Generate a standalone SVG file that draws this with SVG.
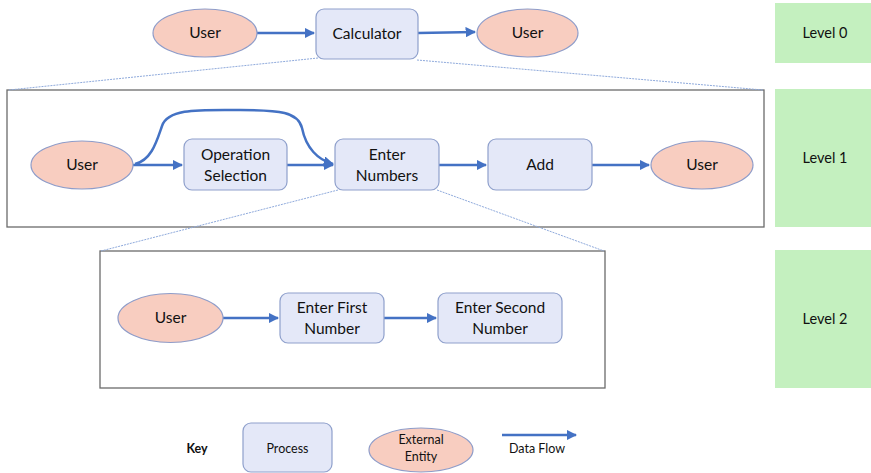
<svg xmlns="http://www.w3.org/2000/svg" width="871" height="473" viewBox="0 0 871 473">
<defs>
<marker id="ah" viewBox="0 0 10 10" refX="9" refY="5" markerWidth="4.2" markerHeight="4.2" orient="auto" markerUnits="strokeWidth"><path d="M0,0 L10,5 L0,10 z" fill="#4472c4"/></marker>
<style>
.ent{fill:#f8cdc0;stroke:#8e9cc9;stroke-width:1.2}
.proc{fill:#e4e8f8;stroke:#8fa0cc;stroke-width:1.2}
.frame{fill:#fff;stroke:#6b6b6b;stroke-width:1.3}
.lvl{fill:#c4f0bf}
.flow{fill:none;stroke:#4472c4;stroke-width:2.5;marker-end:url(#ah)}
.zoom{fill:none;stroke:#8faadc;stroke-width:1;stroke-dasharray:2,1}
text{font-family:Lato,"Open Sans","Liberation Sans",sans-serif;font-size:15.5px;fill:#111;text-anchor:middle}
.lt{font-size:14.5px}
.kt{font-size:12.5px}
</style>
</defs>
<rect width="871" height="473" fill="#fff"/>
<g id="level1-frame"><rect class="frame" x="7" y="90" width="757" height="137"/></g>
<g id="level2-frame"><rect class="frame" x="100" y="251" width="505" height="137"/></g>
<g id="zoom-lines">
<line class="zoom" x1="318" y1="58" x2="9" y2="90"/>
<line class="zoom" x1="417" y1="60" x2="763" y2="90"/>
<line class="zoom" x1="338" y1="190" x2="101" y2="251"/>
<line class="zoom" x1="437" y1="190" x2="604" y2="251"/>
</g>
<g id="levels">
<g id="level0"><rect class="lvl" x="775" y="3" width="96" height="60"/><text class="lt" x="825" y="38">Level 0</text></g>
<g id="level1"><rect class="lvl" x="775" y="89" width="96" height="138"/><text class="lt" x="825" y="163">Level 1</text></g>
<g id="level2"><rect class="lvl" x="775" y="250" width="96" height="138"/><text class="lt" x="825" y="324">Level 2</text></g>
</g>
<g id="connectors">
<line class="flow" x1="257" y1="33" x2="314" y2="33"/>
<line class="flow" x1="418" y1="33" x2="475" y2="32"/>
<line class="flow" x1="133" y1="165" x2="182" y2="165"/>
<path class="flow" d="M135,164 C152,160 157,140 162,126 C168,108 200,110 240,110 C280,110 298,112 302,128 C306,148 318,160 333,164"/>
<line class="flow" x1="287" y1="165" x2="333" y2="165"/>
<line class="flow" x1="439" y1="165" x2="486" y2="165"/>
<line class="flow" x1="592" y1="165" x2="649" y2="165"/>
<line class="flow" x1="223" y1="318" x2="278" y2="318"/>
<line class="flow" x1="384" y1="318" x2="436" y2="318"/>
<line class="flow" x1="502" y1="435" x2="576" y2="435"/>
</g>
<g id="l0-user-in"><ellipse class="ent" cx="205" cy="33" rx="52" ry="24"/><text x="205" y="38">User</text></g>
<g id="l0-calculator"><rect class="proc" x="316" y="9" width="102" height="50" rx="8"/><text x="367" y="39">Calculator</text></g>
<g id="l0-user-out"><ellipse class="ent" cx="527.5" cy="33" rx="50.5" ry="24"/><text x="527.5" y="38">User</text></g>
<g id="l1-user-in"><ellipse class="ent" cx="82" cy="165" rx="51" ry="24"/><text x="82" y="170">User</text></g>
<g id="l1-opsel"><rect class="proc" x="184" y="139" width="103" height="51" rx="8"/><text x="235.5" y="160">Operation</text><text x="235.5" y="181">Selection</text></g>
<g id="l1-enter"><rect class="proc" x="335" y="139" width="104" height="51" rx="8"/><text x="387" y="160">Enter</text><text x="387" y="181">Numbers</text></g>
<g id="l1-add"><rect class="proc" x="488" y="139" width="104" height="51" rx="8"/><text x="540" y="170">Add</text></g>
<g id="l1-user-out"><ellipse class="ent" cx="702" cy="165" rx="51" ry="24"/><text x="702" y="170">User</text></g>
<g id="l2-user"><ellipse class="ent" cx="170.5" cy="318" rx="52.5" ry="24.5"/><text x="170.5" y="323">User</text></g>
<g id="l2-first"><rect class="proc" x="280" y="293" width="104" height="50" rx="8"/><text x="332" y="313">Enter First</text><text x="332" y="334">Number</text></g>
<g id="l2-second"><rect class="proc" x="438" y="293" width="124" height="50" rx="8"/><text x="500" y="313">Enter Second</text><text x="500" y="334">Number</text></g>
<g id="key">
<text class="kt" x="197" y="453" style="font-weight:bold">Key</text>
<g id="key-process"><rect class="proc" x="243" y="423" width="89" height="49" rx="8"/><text class="kt" x="287.5" y="453">Process</text></g>
<g id="key-entity"><ellipse class="ent" cx="421" cy="450" rx="52" ry="22"/><text class="kt" x="421" y="444">External</text><text class="kt" x="421" y="461">Entity</text></g>
<text class="kt" x="537" y="453">Data Flow</text>
</g>
</svg>
